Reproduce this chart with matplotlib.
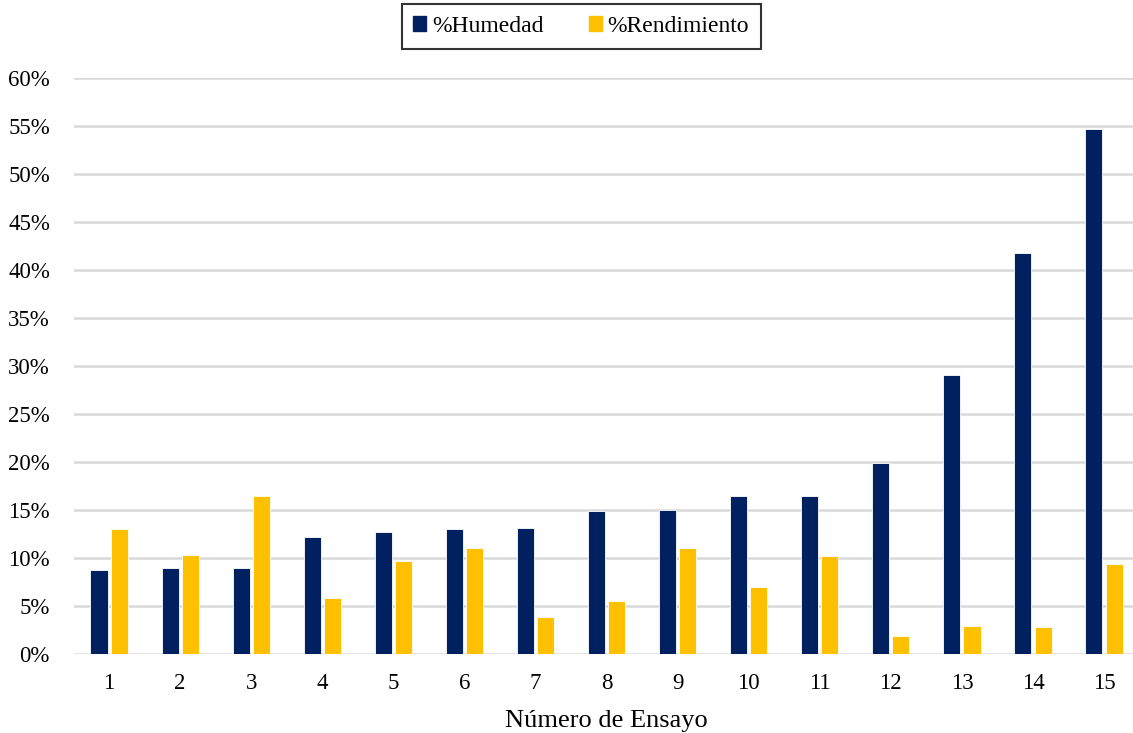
import numpy as np
import matplotlib.pyplot as plt
from matplotlib.ticker import PercentFormatter
from matplotlib.patches import Patch

plt.rcParams['font.family'] = ['Liberation Serif', 'DejaVu Serif']

ensayos = [str(i) for i in range(1, 16)]
humedad = [8.8, 9.0, 9.0, 12.2, 12.7, 13.0, 13.1, 14.85, 15.05, 16.5, 16.5, 19.9, 29.1, 41.8, 54.7]
rendimiento = [13.0, 10.3, 16.45, 5.8, 9.7, 11.05, 3.85, 5.55, 11.05, 7.0, 10.25, 1.9, 2.9, 2.85, 9.4]

azul = '#002060'
amarillo = '#FFC000'

fig = plt.figure(figsize=(11.33, 7.33), dpi=100)
ax = fig.add_axes([0.0649, 0.1078, 0.9409, 0.7858])

x = np.arange(len(ensayos))
w = 0.24
ax.bar(x - 0.142, np.array(humedad) / 100, w, color=azul, edgecolor='white', linewidth=0.6, zorder=3)
ax.bar(x + 0.142, np.array(rendimiento) / 100, w, color=amarillo, edgecolor='white', linewidth=0.6, zorder=3)

ax.set_xlim(-0.5, len(ensayos) - 0.5)
ax.set_ylim(0, 0.6)
ax.set_yticks(np.arange(0, 0.61, 0.05))
ax.yaxis.set_major_formatter(PercentFormatter(1.0, decimals=0))
ax.set_xticks(x)
ax.set_xticklabels(ensayos)
ax.grid(axis='y', color='#D9D9D9', linewidth=1.8, zorder=0)
for s in ax.spines.values():
    s.set_visible(False)
ax.tick_params(axis='both', length=0, labelsize=16.5, colors='#000000')
ax.tick_params(axis='y', pad=17)
ax.tick_params(axis='x', pad=14)
ax.set_xlabel('Número de Ensayo', fontsize=19, labelpad=11)

handles = [Patch(color=azul, label='%Humedad'), Patch(color=amarillo, label='%Rendimiento')]
leg = fig.legend(handles=handles, loc='center', bbox_to_anchor=(0.513, 0.964), ncol=2,
                 fontsize=17, frameon=True, fancybox=False, edgecolor='black',
                 handlelength=0.55, handleheight=0.55, handletextpad=0.25, columnspacing=1.9,
                 borderpad=0.5, borderaxespad=0)
leg.get_frame().set_linewidth(1.5)

fig.savefig('out.png', dpi=100)
